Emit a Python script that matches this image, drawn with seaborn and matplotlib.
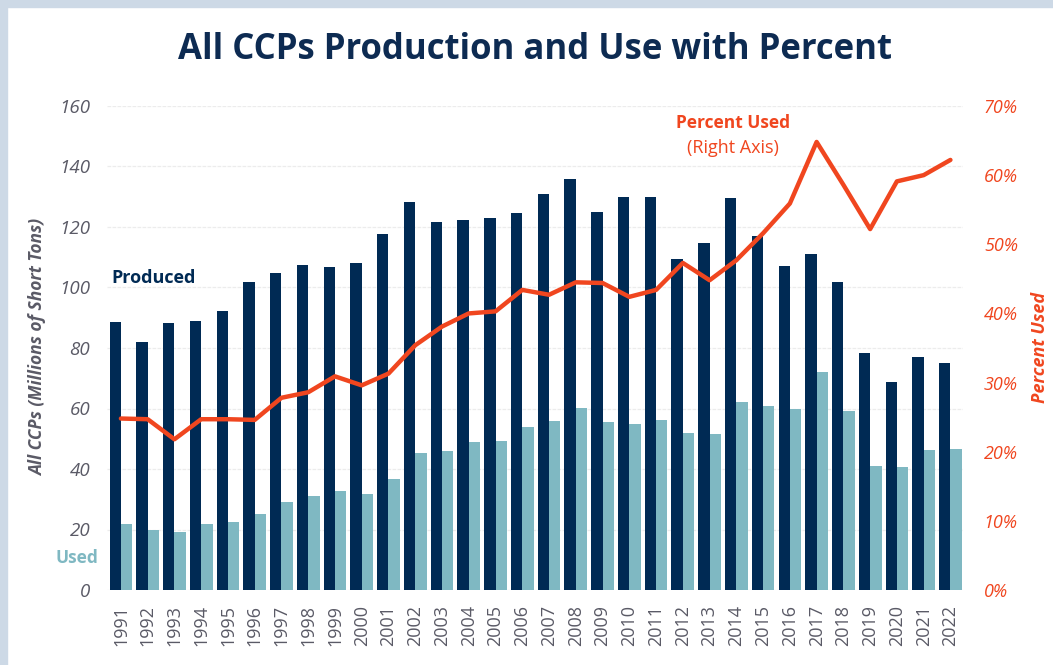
import numpy as np
import pandas as pd
import seaborn as sns
import matplotlib.pyplot as plt
from matplotlib.patches import Rectangle
from matplotlib.ticker import PercentFormatter

years = [str(y) for y in range(1991, 2023)]
produced = [88.5, 81.9, 88.3, 88.8, 92.1, 101.7, 104.8, 107.4, 106.8, 108.1,
            117.7, 128.4, 121.5, 122.3, 123.0, 124.6, 130.8, 135.9, 125.1, 129.9,
            129.9, 109.4, 114.6, 129.5, 117.1, 107.2, 111.2, 101.9, 78.2, 68.9,
            77.0, 75.0]
used = [21.9, 19.9, 19.1, 21.9, 22.6, 25.0, 29.0, 31.0, 32.7, 31.8,
        36.8, 45.3, 46.0, 48.8, 49.4, 54.0, 55.8, 60.3, 55.4, 55.0,
        56.3, 51.8, 51.5, 62.0, 60.9, 59.9, 72.2, 59.2, 40.9, 40.7,
        46.2, 46.6]
pct_used = [24.8, 24.7, 21.8, 24.7, 24.7, 24.6, 27.8, 28.6, 30.9, 29.6,
            31.3, 35.4, 38.1, 40.0, 40.3, 43.4, 42.7, 44.5, 44.4, 42.4,
            43.4, 47.3, 44.8, 47.7, 51.6, 55.9, 64.8, 58.6, 52.2, 59.1,
            60.0, 62.2]

navy = "#002a54"
teal = "#7fb8c2"
red = "#f0461f"
grey = "#5a5a66"

df = pd.DataFrame({"year": years, "Produced": produced, "Used": used})
long = df.melt(id_vars="year", var_name="kind", value_name="tons")

sns.set_style("white")
plt.rcParams['font.family'] = ['Open Sans', 'DejaVu Sans']

W, H = 1053, 665
fig = plt.figure(figsize=(W / 100, H / 100), dpi=100)
# light blue frame on the top and left
fig.patches.append(Rectangle((0, 0), 7 / W, 1, transform=fig.transFigure, color="#cdd9e6", zorder=0))
fig.patches.append(Rectangle((0, 1 - 7 / H), 1, 7 / H, transform=fig.transFigure, color="#cdd9e6", zorder=0))

ax = fig.add_axes([107 / W, 1 - 590 / H, 856 / W, 484 / H])
sns.barplot(data=long, x="year", y="tons", hue="kind", palette=[navy, teal],
            width=0.85, gap=0, ax=ax, legend=False, saturation=1, linewidth=0)
ax.set_ylim(0, 160)
ax.set_xlim(-0.52, 31.47)
ax.set_yticks(range(0, 161, 20))
ax.yaxis.grid(True, color="#ececec", linewidth=0.9, linestyle=(0, (3, 1)))
ax.set_axisbelow(True)
for s in ax.spines.values():
    s.set_visible(False)
ax.tick_params(axis="y", length=0, pad=12, labelsize=13.5, labelcolor=grey)
for t in ax.get_yticklabels():
    t.set_fontstyle("italic")
ax.tick_params(axis="x", length=0, labelsize=13, labelcolor=grey, rotation=90, pad=11)
ax.set_xlabel("")
ax.set_ylabel("All CCPs (Millions of Short Tons)", fontsize=12.5, fontstyle="italic",
              fontweight="bold", color=grey)
ax.yaxis.set_label_coords(-60 / 856, 0.502)

ax2 = ax.twinx()
sns.lineplot(x=np.arange(len(years)), y=pct_used, color=red, linewidth=3.2, ax=ax2)
ax2.set_ylim(0, 70)
ax2.set_yticks(range(0, 71, 10))
ax2.yaxis.set_major_formatter(PercentFormatter(decimals=0))
for s in ax2.spines.values():
    s.set_visible(False)
ax2.tick_params(axis="y", length=0, pad=15, labelsize=13, labelcolor=red)
for t in ax2.get_yticklabels():
    t.set_fontstyle("italic")
ax2.set_ylabel("Percent Used", fontsize=13, fontstyle="italic", fontweight="bold",
               color=red)
ax2.yaxis.set_label_coords(1 + 68 / 856, 0.502)
ax2.grid(False)

fig.text(535 / W, 1 - 50 / H, "All CCPs Production and Use with Percent", ha="center", va="center",
         fontsize=25, fontweight="bold", color="#0d2b52")
fig.text(111 / W, 1 - 278 / H, "Produced", ha="left", va="center", fontsize=13,
         fontweight="bold", color=navy)
fig.text(77 / W, 1 - 558 / H, "Used", ha="center", va="center", fontsize=12.5,
         fontweight="bold", color=teal)
fig.text(733 / W, 1 - 123 / H, "Percent Used", ha="center", va="center", fontsize=12.5,
         fontweight="bold", color=red)
fig.text(733 / W, 1 - 148 / H, "(Right Axis)", ha="center", va="center", fontsize=13,
         color=red)

plt.savefig("out.png", dpi=100)
